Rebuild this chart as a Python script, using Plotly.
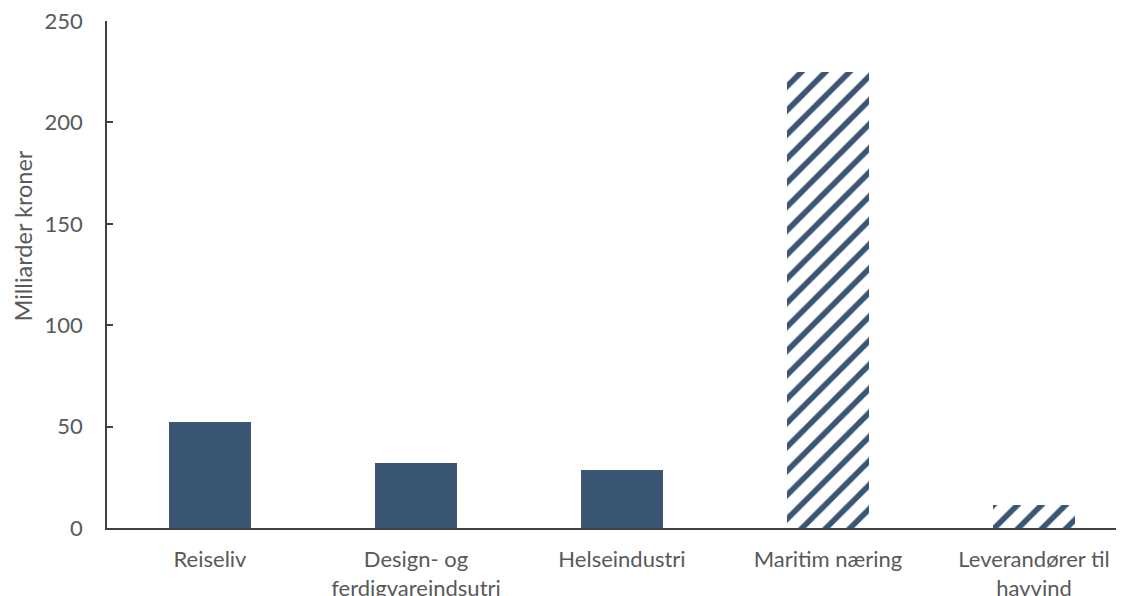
import plotly.graph_objects as go

categories = ["Reiseliv", "Design- og<br>ferdigvareindsutri", "Helseindustri", "Maritim næring", "Leverandører til<br>havvind"]
values = [52.5, 32.0, 28.5, 225.0, 11.5]
hatched = [False, False, False, True, True]
y_ticks = [0, 50, 100, 150, 200, 250]
y_title = "Milliarder kroner"

bar_color = "#3A5674"
text_color = "#595959"
font_family = "Lato, 'Open Sans', sans-serif"
fs = 22

n = len(categories)
xs = list(range(n))
solid_vals = [v if not h else None for v, h in zip(values, hatched)]
hatch_vals = [v if h else None for v, h in zip(values, hatched)]

fig = go.Figure()
fig.add_trace(go.Bar(
    x=xs, y=solid_vals, width=0.4,
    marker=dict(color=bar_color, line=dict(width=0)),
    showlegend=False,
))
fig.add_trace(go.Bar(
    x=xs, y=hatch_vals, width=0.4,
    marker=dict(
        color=bar_color,
        line=dict(width=0),
        pattern=dict(
            shape="/",
            fgcolor=bar_color,
            bgcolor="white",
            fgopacity=1,
            size=17,
            solidity=0.33,
            fillmode="replace",
        ),
    ),
    showlegend=False,
))

fig.update_layout(
    template="none",
    width=1116, height=588,
    margin=dict(l=99, r=0, t=13, b=68),
    paper_bgcolor="white", plot_bgcolor="white",
    font=dict(family=font_family, size=fs, color=text_color),
    barmode="overlay",
    bargap=0,
)
fig.update_xaxes(
    tickmode="array",
    tickvals=xs,
    ticktext=categories,
    range=[-0.5, 4.437],
    showline=True, linecolor="#404040", linewidth=1.5,
    showgrid=False, zeroline=False, ticks="",
    ticklabelstandoff=11,
    ticklabeloverflow="allow",
    tickfont=dict(size=fs, color=text_color),
)
fig.update_yaxes(
    range=[0, 250],
    tickvals=y_ticks,
    showline=True, linecolor="#404040", linewidth=1.5,
    showgrid=False, zeroline=False,
    ticks="inside", ticklen=6, tickcolor="#404040", tickwidth=1.5,
    ticklabelstandoff=18,
    ticklabeloverflow="allow",
    tickfont=dict(size=fs, color=text_color),
)
fig.add_annotation(
    text=y_title, textangle=-90,
    xref="paper", yref="paper",
    x=(15 - 99) / 1017, y=0.575,
    xanchor="center", yanchor="middle",
    showarrow=False,
    font=dict(size=23.5, color=text_color),
)

fig.write_html("out.html")
